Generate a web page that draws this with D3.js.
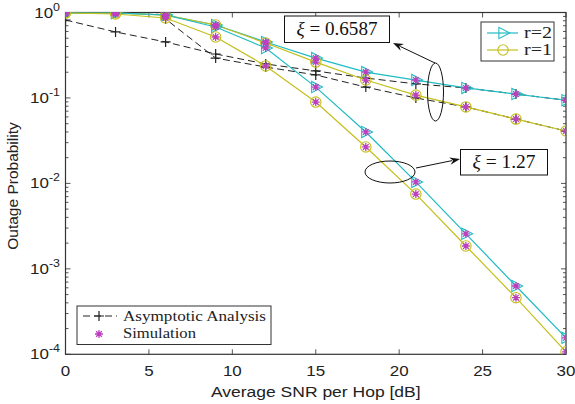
<!DOCTYPE html>
<html>
<head>
<meta charset="utf-8">
<script src="https://cdn.jsdelivr.net/npm/d3@7"></script>
<style>
  html, body { margin: 0; padding: 0; background: #fff; }
  svg { display: block; }
</style>
</head>
<body>
<div id="chart"></div>
<script>
// outage probability vs SNR per hop, two xi values, r=1 and r=2
const snr = [0, 3, 6, 9, 12, 15, 18, 21, 24, 27, 30];

// xi = 0.6587
const opR2Low = [0.99, 0.99, 0.935, 0.714, 0.452, 0.293, 0.201, 0.162, 0.131, 0.111, 0.094];
const opR1Low = [0.99, 0.99, 0.93, 0.714, 0.44, 0.263, 0.162, 0.108, 0.0785, 0.0566, 0.041];
// xi = 1.27
const opR2High = [0.99, 0.99, 0.935, 0.676, 0.384, 0.134, 0.040, 0.0104, 0.00257, 0.00063, 0.000156];
const opR1High = [0.99, 0.96, 0.862, 0.517, 0.237, 0.0895, 0.0267, 0.0075, 0.00185, 0.00046, 0.000107];

// asymptotic curves (null = not plotted)
const asymR2 = [0.817, 0.592, 0.452, 0.327, 0.25, 0.207, 0.171, 0.146, 0.131, 0.111, 0.094];
const asymR1 = [null, 2.16, 0.84, 0.293, 0.23, 0.186, 0.134, 0.1, 0.0785, 0.0566, 0.041];

const xTicks = [0, 5, 10, 15, 20, 25, 30];
const yTicks = [1, 0.1, 0.01, 0.001, 0.0001];
const yTickExp = ["0", "-1", "-2", "-3", "-4"];

const W = 575, H = 404;
const m = { left: 65.5, right: 9, top: 12.5, bottom: 49.7 };
const iw = W - m.left - m.right, ih = H - m.top - m.bottom;

const cyan = "#1fbcc4", olive = "#c4bf1c", magenta = "#bc3fbf";
const serif = "'Liberation Serif', 'DejaVu Serif', serif";
const sans = "'Liberation Sans', Arial, sans-serif";
const sx = 1.13; // the figure text is a bit wide

const svg = d3.select("#chart").append("svg").attr("width", W).attr("height", H);
const g = svg.append("g").attr("transform", `translate(${m.left},${m.top})`);

const x = d3.scaleLinear().domain([0, 30]).range([0, iw]);
const y = d3.scaleLog().domain([1e-4, 1]).range([ih, 0]);

svg.append("defs").append("clipPath").attr("id", "clip")
  .append("rect").attr("width", iw).attr("height", ih);

// ticks (inside, on all four sides)
const minor = [];
for (let e = -4; e < 0; e++) for (let k = 2; k <= 9; k++) minor.push(k * Math.pow(10, e));
const tk = g.append("g").attr("stroke", "#555").attr("stroke-width", 1);
minor.forEach(v => {
  tk.append("line").attr("x1", 0).attr("x2", 3).attr("y1", y(v)).attr("y2", y(v));
  tk.append("line").attr("x1", iw).attr("x2", iw - 3).attr("y1", y(v)).attr("y2", y(v));
});
yTicks.forEach(v => {
  tk.append("line").attr("x1", 0).attr("x2", 5).attr("y1", y(v)).attr("y2", y(v));
  tk.append("line").attr("x1", iw).attr("x2", iw - 5).attr("y1", y(v)).attr("y2", y(v));
});
xTicks.forEach(v => {
  tk.append("line").attr("x1", x(v)).attr("x2", x(v)).attr("y1", ih).attr("y2", ih - 5);
  tk.append("line").attr("x1", x(v)).attr("x2", x(v)).attr("y1", 0).attr("y2", 5);
});

// frame
g.append("rect").attr("width", iw).attr("height", ih)
  .attr("fill", "none").attr("stroke", "#333").attr("stroke-width", 1.2);

// tick labels
g.selectAll(".xl").data(xTicks).enter().append("text")
  .attr("transform", d => `translate(${x(d)},${ih + 22}) scale(${sx},1)`)
  .attr("text-anchor", "middle").attr("font-family", sans).attr("font-size", 15)
  .attr("fill", "#222").text(d => d);

yTicks.forEach((v, i) => {
  const t = g.append("text").attr("transform", `translate(-5.5,${y(v) + 5}) scale(${sx},1)`)
    .attr("text-anchor", "end").attr("font-family", sans).attr("font-size", 15).attr("fill", "#222");
  t.append("tspan").text("10");
  t.append("tspan").attr("dy", -7).attr("font-size", 11).text(yTickExp[i]);
});

// axis titles
svg.append("text").attr("transform", `translate(${m.left + iw / 2},397) scale(${sx},1)`)
  .attr("text-anchor", "middle").attr("font-family", sans).attr("font-size", 15.5)
  .attr("fill", "#222").text("Average SNR per Hop [dB]");
svg.append("text").attr("transform", `translate(18,186) rotate(-90)`)
  .attr("text-anchor", "middle").attr("font-family", sans).attr("font-size", 15.5)
  .attr("fill", "#222").text("Outage Probability");

const plot = g.append("g").attr("clip-path", "url(#clip)");
const line = d3.line().defined(d => d[1] != null).x(d => x(d[0])).y(d => y(d[1]));
const pts = arr => snr.map((s, i) => [s, arr[i]]);

function triPath(s) {
  return `M${s * 0.9},0 L${-s * 0.55},${-s * 0.75} L${-s * 0.55},${s * 0.75} Z`;
}
function plusPath(s) {
  return `M${-s},0 H${s} M0,${-s} V${s}`;
}
function starPath(s) {
  let p = "";
  for (let k = 0; k < 4; k++) {
    const a = k * Math.PI / 4;
    p += `M${-s * Math.cos(a)},${-s * Math.sin(a)} L${s * Math.cos(a)},${s * Math.sin(a)} `;
  }
  return p;
}

// asymptotic (dashed, +)
[asymR2, asymR1].forEach(arr => {
  plot.append("path").datum(pts(arr)).attr("d", line)
    .attr("fill", "none").attr("stroke", "#222").attr("stroke-width", 1)
    .attr("stroke-dasharray", "7,4");
  plot.selectAll(null).data(pts(arr).filter(d => d[1] != null)).enter().append("path")
    .attr("transform", d => `translate(${x(d[0])},${y(d[1])})`)
    .attr("d", plusPath(5)).attr("stroke", "#222").attr("stroke-width", 1.2);
});

// simulated/analytical curves
const series = [
  { vals: opR2Low, color: cyan, mk: "tri" },
  { vals: opR1Low, color: olive, mk: "circ" },
  { vals: opR2High, color: cyan, mk: "tri" },
  { vals: opR1High, color: olive, mk: "circ" }
];
series.forEach(s => {
  plot.append("path").datum(pts(s.vals)).attr("d", line)
    .attr("fill", "none").attr("stroke", s.color).attr("stroke-width", 1.2);
  const sel = plot.selectAll(null).data(pts(s.vals)).enter();
  if (s.mk === "tri") {
    sel.append("path").attr("transform", d => `translate(${x(d[0])},${y(d[1])})`)
      .attr("d", triPath(7.5)).attr("fill", "none").attr("stroke", s.color).attr("stroke-width", 1.1);
  } else {
    sel.append("circle").attr("cx", d => x(d[0])).attr("cy", d => y(d[1])).attr("r", 5.2)
      .attr("fill", "none").attr("stroke", s.color).attr("stroke-width", 1.1);
  }
});
series.forEach(s => {
  plot.selectAll(null).data(pts(s.vals)).enter().append("path")
    .attr("transform", d => `translate(${x(d[0])},${y(d[1])})`)
    .attr("d", starPath(4)).attr("stroke", magenta).attr("stroke-width", 1.3);
});

// annotations
function annot(cx, cy, rx, ry, x1, y1, x2, y2, bx, by, bw, bh, val, tw) {
  svg.append("ellipse").attr("cx", cx).attr("cy", cy).attr("rx", rx).attr("ry", ry)
    .attr("fill", "none").attr("stroke", "#111").attr("stroke-width", 1);
  const ang = Math.atan2(y2 - y1, x2 - x1);
  svg.append("line").attr("x1", x1).attr("y1", y1)
    .attr("x2", x2 - 8 * Math.cos(ang)).attr("y2", y2 - 8 * Math.sin(ang))
    .attr("stroke", "#111").attr("stroke-width", 1);
  const hx = x2, hy = y2;
  const a1 = ang + Math.PI - 0.35, a2 = ang + Math.PI + 0.35;
  svg.append("path")
    .attr("d", `M${hx},${hy} L${hx + 11 * Math.cos(a1)},${hy + 11 * Math.sin(a1)} L${hx - 7 * Math.cos(ang)},${hy - 7 * Math.sin(ang)} L${hx + 11 * Math.cos(a2)},${hy + 11 * Math.sin(a2)} Z`)
    .attr("fill", "#111");
  svg.append("rect").attr("x", bx).attr("y", by).attr("width", bw).attr("height", bh)
    .attr("fill", "#fff").attr("stroke", "#111").attr("stroke-width", 1);
  const t = svg.append("text").attr("x", bx + (bw - tw) / 2).attr("y", by + bh / 2 + 6)
    .attr("textLength", tw).attr("lengthAdjust", "spacingAndGlyphs")
    .attr("font-family", serif).attr("font-size", 18).attr("fill", "#111");
  t.append("tspan").attr("font-style", "italic").text("ξ");
  t.append("tspan").text(" = " + val);
}
annot(435.5, 92, 8, 29, 435, 63, 393, 43, 284.5, 16, 105, 26.5, "0.6587", 81);
annot(390, 172, 25, 11, 416, 168, 460, 159, 460.5, 149.5, 87, 25.5, "1.27", 63);

// legend top-right
const lg1 = svg.append("g");
lg1.append("rect").attr("x", 481).attr("y", 22).attr("width", 73).attr("height", 39)
  .attr("fill", "#fff").attr("stroke", "#333").attr("stroke-width", 1);
[["r=2", cyan, "tri", 33], ["r=1", olive, "circ", 50]].forEach(([lab, c, mk, ly]) => {
  lg1.append("line").attr("x1", 487).attr("x2", 518).attr("y1", ly).attr("y2", ly)
    .attr("stroke", c).attr("stroke-width", 1.2);
  if (mk === "tri") {
    lg1.append("path").attr("transform", `translate(503,${ly})`).attr("d", triPath(7.5))
      .attr("fill", "none").attr("stroke", c).attr("stroke-width", 1.1);
  } else {
    lg1.append("circle").attr("cx", 503).attr("cy", ly).attr("r", 5.2)
      .attr("fill", "none").attr("stroke", c).attr("stroke-width", 1.1);
  }
  lg1.append("text").attr("x", 524).attr("y", ly + 5).attr("font-family", serif)
    .attr("textLength", 28).attr("lengthAdjust", "spacingAndGlyphs")
    .attr("font-size", 16).attr("fill", "#222").text(lab);
});

// legend bottom-left
const lg2 = svg.append("g");
lg2.append("rect").attr("x", 77).attr("y", 306).attr("width", 194).attr("height", 38.5)
  .attr("fill", "#fff").attr("stroke", "#333").attr("stroke-width", 1);
lg2.append("line").attr("x1", 83).attr("x2", 117).attr("y1", 316).attr("y2", 316)
  .attr("stroke", "#222").attr("stroke-width", 1).attr("stroke-dasharray", "7,4");
lg2.append("path").attr("transform", "translate(99,316)").attr("d", plusPath(5))
  .attr("stroke", "#222").attr("stroke-width", 1.2);
lg2.append("path").attr("transform", "translate(99,334)").attr("d", starPath(4))
  .attr("stroke", magenta).attr("stroke-width", 1.3);
lg2.append("text").attr("x", 123).attr("y", 321).attr("font-family", serif)
  .attr("textLength", 143).attr("lengthAdjust", "spacingAndGlyphs")
  .attr("font-size", 15).attr("fill", "#222").text("Asymptotic Analysis");
lg2.append("text").attr("x", 123).attr("y", 338).attr("font-family", serif)
  .attr("textLength", 73).attr("lengthAdjust", "spacingAndGlyphs")
  .attr("font-size", 15).attr("fill", "#222").text("Simulation");
</script>
</body>
</html>
